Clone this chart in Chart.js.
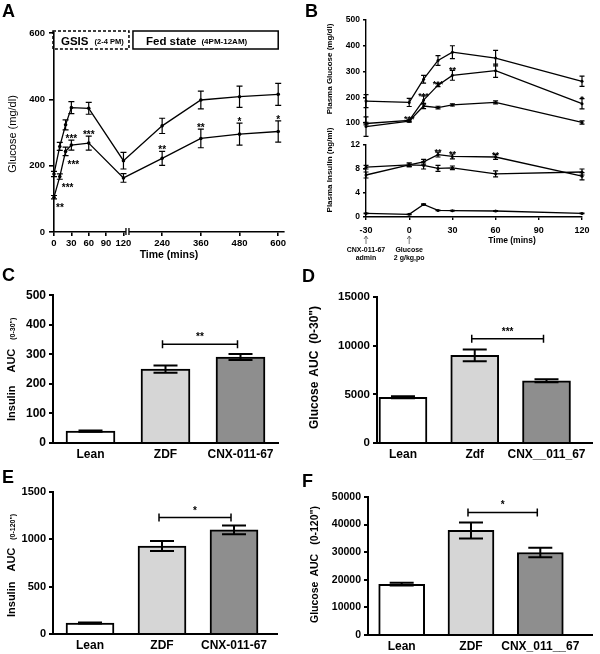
<!DOCTYPE html>
<html>
<head>
<meta charset="utf-8">
<title>CNX-011-67 glucose and insulin</title>
<script src="https://cdn.jsdelivr.net/npm/chart.js@4.4.1/dist/chart.umd.min.js"></script>
<style>
  html, body { margin: 0; padding: 0; background: #fff; }
  #fig { position: relative; width: 600px; height: 654px; overflow: hidden; }
  #fig canvas { position: absolute; }
  .tag { position: absolute; font: bold 18px "Liberation Sans", Arial, sans-serif; line-height: 18px; }
</style>
</head>
<body>
<div id="fig">
  <canvas id="panelA"></canvas>
  <canvas id="panelBglu"></canvas>
  <canvas id="panelBins"></canvas>
  <canvas id="panelC"></canvas>
  <canvas id="panelD"></canvas>
  <canvas id="panelE"></canvas>
  <canvas id="panelF"></canvas>
  <div class="tag" style="left:2px;top:2px">A</div>
  <div class="tag" style="left:305px;top:2px">B</div>
  <div class="tag" style="left:2px;top:266px">C</div>
  <div class="tag" style="left:302px;top:267px">D</div>
  <div class="tag" style="left:2px;top:468px">E</div>
  <div class="tag" style="left:302px;top:472px">F</div>
</div>
<script>
// ---- values ----
// A: glucose over the day (GSIS then fed state), ZDF vs CNX-011-67
const timesA = [0, 10, 20, 30, 60, 120, 240, 360, 480, 600];
const glucoseZdfA = [175, 258, 323, 375, 373, 215, 320, 398, 408, 415];
const glucoseZdfErrA = [8, 12, 15, 18, 18, 25, 23, 27, 32, 33];
const glucoseCnxA = [105, 167, 243, 262, 268, 163, 222, 282, 295, 303];
const glucoseCnxErrA = [5, 8, 13, 15, 21, 13, 21, 28, 33, 32];
const starsA = ['**', '***', '***', '***', '***', '', '**', '**', '*', '*'];
const timeTicksA = [0, 30, 60, 90, 120, 240, 360, 480, 600];
const glucoseTicksA = [0, 200, 400, 600];

// B: OGTT, plasma glucose and insulin
const timesB = [-30, 0, 10, 20, 30, 60, 120];
const gluZdfB = [185, 180, 270, 343, 375, 352, 262];
const gluZdfErrB = [25, 16, 15, 19, 25, 30, 20];
const gluCnxB = [98, 110, 189, 247, 285, 303, 175];
const gluCnxErrB = [5, 5, 16, 6, 19, 26, 20];
const gluLeanB = [86, 107, 166, 160, 170, 180, 102];
const gluLeanErrB = [38, 4, 10, 5, 4, 6, 6];
const gluStarsB = ['', '***', '***', '***', '**', '', '*'];
const insZdfB = [8.3, 8.7, 8.6, 8.1, 8.2, 7.2, 7.5];
const insZdfErrB = [0.3, 0.3, 0.6, 0.5, 0.3, 0.5, 0.5];
const insCnxB = [7.0, 8.7, 9.2, 10.4, 10.1, 10.0, 6.8];
const insCnxErrB = [0.5, 0.3, 0.4, 0.4, 0.4, 0.4, 0.6];
const insLeanB = [0.6, 0.45, 2.1, 1.1, 1.05, 1.0, 0.6];
const insLeanErrB = [0.05, 0.05, 0.1, 0.05, 0.05, 0.05, 0.05];
const insStarsB = ['', '', '', '**', '**', '**', ''];
const timeTicksB = [-30, 0, 30, 60, 90, 120];
const gluTicksB = [100, 200, 300, 400, 500];
const insTicksB = [0, 2, 4, 6, 8, 10, 12];

// C-F: AUC bars
const groupsCE = ['Lean', 'ZDF', 'CNX-011-67'];
const groupsD = ['Lean', 'Zdf', 'CNX__011_67'];
const groupsF = ['Lean', 'ZDF', 'CNX_011__67'];
const insAuc30 = [40, 250, 291];
const insAuc30Err = [2, 12, 10];
const gluAuc30 = [4700, 9000, 6400];
const gluAuc30Err = [100, 600, 150];
const insAuc120 = [116, 930, 1100];
const insAuc120Err = [5, 52, 45];
const gluAuc120 = [18400, 37900, 29900];
const gluAuc120Err = [500, 2900, 1700];
// ZDF vs CNX bracket: [stars, height in axis units]
const sigC = ['**', 334];
const sigD = ['***', 10700];
const sigE = ['*', 1230];
const sigF = ['*', 44400];
const ticksC = [0, 100, 200, 300, 400, 500];
const ticksD = [0, 5000, 10000, 15000];
const ticksE = [0, 500, 1000, 1500];
const ticksF = [0, 10000, 20000, 30000, 40000, 50000];
const barFills = ['#ffffff', '#d6d6d6', '#8e8e8e'];

// ---- setup ----
const FAMILY = '"Liberation Sans", Arial, Helvetica, sans-serif';
Chart.defaults.font.family = FAMILY;
Chart.defaults.color = '#000';
Chart.defaults.animation = false;
Chart.defaults.responsive = false;
Chart.defaults.plugins.legend.display = false;
Chart.defaults.plugins.tooltip.enabled = false;

const fnt = (size, weight = 'bold') => `${weight} ${size}px ${FAMILY}`;

function canvasAt(id, box) {
  const c = document.getElementById(id);
  c.width = box.w; c.height = box.h;
  c.style.left = box.x + 'px'; c.style.top = box.y + 'px';
  return c;
}

// plot area given in page pixels -> padding + fixed axis sizes
function frame(box, area) {
  return {
    padding: { left: 0, top: area.top - box.y, right: box.x + box.w - area.right, bottom: 0 },
    yWidth: area.left - box.x,
    xHeight: box.y + box.h - area.bottom,
  };
}

function valueAxis(ticks, size, width, lw = 1.6, tick = 4, pad = 3) {
  return {
    min: ticks[0], max: ticks[ticks.length - 1],
    afterBuildTicks: s => { s.ticks = ticks.map(v => ({ value: v })); },
    afterFit: s => { s.width = width; },
    border: { color: '#000', width: lw },
    grid: { drawOnChartArea: false, color: '#000', lineWidth: lw, tickLength: tick },
    ticks: { font: { size, weight: 'bold' }, padding: pad, callback: v => String(v) },
  };
}

// vertical error bars from dataset.errors
const errorBars = {
  id: 'errorBars',
  afterDatasetsDraw(chart) {
    const ctx = chart.ctx;
    chart.data.datasets.forEach((ds, i) => {
      if (!ds.errors) return;
      const meta = chart.getDatasetMeta(i);
      const ys = chart.scales[meta.yAxisID];
      const cap = ds.capWidth || 3;
      ctx.save();
      ctx.strokeStyle = '#000';
      ctx.lineWidth = ds.errorWidth || 1.2;
      meta.data.forEach((el, j) => {
        const v = ds.data[j].y;
        const top = ys.getPixelForValue(v + ds.errors[j]);
        const bot = ys.getPixelForValue(v - ds.errors[j]);
        ctx.beginPath();
        ctx.moveTo(el.x, top); ctx.lineTo(el.x, bot);
        ctx.moveTo(el.x - cap, top); ctx.lineTo(el.x + cap, top);
        ctx.moveTo(el.x - cap, bot); ctx.lineTo(el.x + cap, bot);
        ctx.stroke();
      });
      ctx.restore();
    });
  },
};

// text rotated to read bottom-to-top, starting at page point (x, y)
function upText(ctx, box, x, y, parts) {
  ctx.save();
  ctx.translate(x - box.x, y - box.y);
  ctx.rotate(-Math.PI / 2);
  ctx.fillStyle = '#000';
  ctx.textBaseline = 'alphabetic';
  let pos = 0;
  parts.forEach(([text, size, weight, gap]) => {
    ctx.font = fnt(size, weight);
    ctx.fillText(text, pos, 0);
    pos += ctx.measureText(text).width + (gap || 0);
  });
  ctx.restore();
}

function upTextCentered(ctx, box, x, y, text, size, weight) {
  ctx.save();
  ctx.font = fnt(size, weight);
  const w = ctx.measureText(text).width;
  ctx.restore();
  upText(ctx, box, x, y + w / 2, [[text, size, weight, 0]]);
}

function pageText(ctx, box, text, x, y, size, weight, align = 'center') {
  ctx.save();
  ctx.font = fnt(size, weight);
  ctx.fillStyle = '#000';
  ctx.textAlign = align;
  ctx.textBaseline = 'alphabetic';
  ctx.fillText(text, x - box.x, y - box.y);
  ctx.restore();
}

// stars just above each error bar
function starsOver(chart, dsIndex, labels, size, lift, skip = 0) {
  const ctx = chart.ctx;
  const ds = chart.data.datasets[dsIndex];
  const meta = chart.getDatasetMeta(dsIndex);
  const ys = chart.scales[meta.yAxisID];
  ctx.save();
  ctx.font = fnt(size);
  ctx.fillStyle = '#000';
  ctx.textAlign = 'center';
  labels.forEach((s, j) => {
    if (!s || j < skip) return;
    const top = ys.getPixelForValue(ds.data[j].y + ds.errors[j]);
    ctx.fillText(s, meta.data[j].x, top + lift);
  });
  ctx.restore();
}

const lineStyle = {
  borderColor: '#000', borderWidth: 1.3, pointRadius: 1.8, pointBackgroundColor: '#000',
  pointBorderColor: '#000', pointBorderWidth: 0, tension: 0, fill: false, clip: false,
};

// ---- A ----
const boxA = { x: 0, y: 0, w: 300, h: 268 };
const frA = frame(boxA, { left: 54, top: 33, right: 284, bottom: 232 });
const posA = t => (t <= 120 ? t : 120 + (t - 120) * 0.557); // axis is compressed after the break at 120
new Chart(canvasAt('panelA', boxA), {
  type: 'line',
  data: {
    datasets: [
      { ...lineStyle, label: 'ZDF', data: timesA.map((t, i) => ({ x: posA(t), y: glucoseZdfA[i] })), errors: glucoseZdfErrA },
      { ...lineStyle, label: 'CNX-011-67', data: timesA.map((t, i) => ({ x: posA(t), y: glucoseCnxA[i] })), errors: glucoseCnxErrA },
    ],
  },
  options: {
    layout: { padding: frA.padding },
    scales: {
      x: {
        type: 'linear', min: 0, max: posA(600) + 10,
        afterBuildTicks: s => { s.ticks = timeTicksA.map(t => ({ value: posA(t) })); },
        afterFit: s => { s.height = frA.xHeight; },
        border: { color: '#000', width: 1.6 },
        grid: { drawOnChartArea: false, color: '#000', lineWidth: 1.6, tickLength: 4 },
        ticks: { autoSkip: false, maxRotation: 0, font: { size: 9.5, weight: 'bold' }, padding: 2, callback: (v, i) => String(timeTicksA[i]) },
      },
      y: valueAxis(glucoseTicksA, 9.5, frA.yWidth, 1.6, 5, 4),
    },
  },
  plugins: [errorBars, {
    id: 'decorA',
    afterDraw(chart) {
      const { ctx, scales: { x, y } } = chart;
      // axis break after 120
      const bx = x.getPixelForValue(posA(120)) + 2.5;
      const by = y.getPixelForValue(0);
      ctx.save();
      ctx.fillStyle = '#fff';
      ctx.fillRect(bx, by - 2, 3, 4);
      ctx.strokeStyle = '#000';
      ctx.lineWidth = 1.3;
      ctx.beginPath();
      ctx.moveTo(bx, by - 4); ctx.lineTo(bx, by + 3);
      ctx.moveTo(bx + 3, by - 4); ctx.lineTo(bx + 3, by + 3);
      ctx.stroke();
      // phase boxes
      const top = y.getPixelForValue(600) - 2;
      const gL = x.getPixelForValue(0) - 1, gR = x.getPixelForValue(posA(120)) + 5.5;
      const fL = gR + 4, fR = x.getPixelForValue(posA(600));
      ctx.lineWidth = 1.5;
      ctx.setLineDash([3, 2]);
      ctx.strokeRect(gL, top, gR - gL, 18);
      ctx.setLineDash([]);
      ctx.strokeRect(fL, top, fR - fL, 18);
      ctx.fillStyle = '#000';
      ctx.textBaseline = 'alphabetic';
      ctx.font = fnt(11.5);
      ctx.fillText('GSIS', gL + 8, top + 14);
      let w = ctx.measureText('GSIS').width;
      ctx.font = fnt(7.5);
      ctx.fillText('(2-4 PM)', gL + 8 + w + 6, top + 13);
      ctx.font = fnt(11.5);
      ctx.fillText('Fed state', fL + 13, top + 14);
      w = ctx.measureText('Fed state').width;
      ctx.font = fnt(8);
      ctx.fillText('(4PM-12AM)', fL + 13 + w + 5, top + 13);
      // early stars sit below-right of the points
      const ds = chart.data.datasets[1];
      const meta = chart.getDatasetMeta(1);
      ctx.font = fnt(10);
      ctx.textAlign = 'left';
      for (let j = 0; j < 3; j++) {
        const bot = y.getPixelForValue(ds.data[j].y - ds.errors[j]);
        ctx.fillText(starsA[j], meta.data[j].x + 2, bot + 12);
      }
      ctx.restore();
      starsOver(chart, 1, starsA, 10, 2, 3);
      upTextCentered(ctx, boxA, 16, 134, 'Glucose (mg/dl)', 11, 'normal');
      pageText(ctx, boxA, 'Time (mins)', 169, 258, 10.5, 'bold');
    },
  }],
});

// ---- B, glucose part ----
const boxBg = { x: 300, y: 0, w: 300, h: 140 };
new Chart(canvasAt('panelBglu', boxBg), {
  type: 'line',
  data: {
    datasets: [
      { ...lineStyle, pointRadius: 1.5, label: 'ZDF', data: timesB.map((t, i) => ({ x: t, y: gluZdfB[i] })), errors: gluZdfErrB, capWidth: 2.5 },
      { ...lineStyle, pointRadius: 1.5, label: 'CNX-011-67', data: timesB.map((t, i) => ({ x: t, y: gluCnxB[i] })), errors: gluCnxErrB, capWidth: 2.5 },
      { ...lineStyle, pointRadius: 1.5, label: 'Lean', data: timesB.map((t, i) => ({ x: t, y: gluLeanB[i] })), errors: gluLeanErrB, capWidth: 2.5 },
    ],
  },
  options: {
    layout: { padding: { left: 0, top: 20, right: 18, bottom: 17 } },
    scales: {
      x: { type: 'linear', min: timeTicksB[0], max: timeTicksB[timeTicksB.length - 1], display: false },
      y: valueAxis(gluTicksB, 8.5, 66, 1.4, 3, 3),
    },
  },
  plugins: [errorBars, {
    id: 'decorBglu',
    afterDraw(chart) {
      starsOver(chart, 1, gluStarsB, 9, 3);
      upTextCentered(chart.ctx, boxBg, 332, 69, 'Plasma Glucose (mg/dl)', 8, 'bold');
    },
  }],
});

// ---- B, insulin part ----
const boxBi = { x: 300, y: 120, w: 300, h: 150 };
const frBi = frame(boxBi, { left: 366, top: 145, right: 582, bottom: 217 });
new Chart(canvasAt('panelBins', boxBi), {
  type: 'line',
  data: {
    datasets: [
      { ...lineStyle, pointRadius: 1.5, label: 'ZDF', data: timesB.map((t, i) => ({ x: t, y: insZdfB[i] })), errors: insZdfErrB, capWidth: 2.5 },
      { ...lineStyle, pointRadius: 1.5, label: 'CNX-011-67', data: timesB.map((t, i) => ({ x: t, y: insCnxB[i] })), errors: insCnxErrB, capWidth: 2.5 },
      { ...lineStyle, pointRadius: 1.5, label: 'Lean', data: timesB.map((t, i) => ({ x: t, y: insLeanB[i] })), errors: insLeanErrB, capWidth: 2.5 },
    ],
  },
  options: {
    layout: { padding: frBi.padding },
    scales: {
      x: {
        type: 'linear', min: timeTicksB[0], max: timeTicksB[timeTicksB.length - 1],
        afterBuildTicks: s => { s.ticks = timeTicksB.map(v => ({ value: v })); },
        afterFit: s => { s.height = frBi.xHeight; },
        border: { color: '#000', width: 1.4 },
        grid: { drawOnChartArea: false, color: '#000', lineWidth: 1.4, tickLength: 3 },
        ticks: { autoSkip: false, maxRotation: 0, font: { size: 9, weight: 'bold' }, padding: 5, callback: v => String(v) },
      },
      y: valueAxis(insTicksB, 8.5, frBi.yWidth, 1.4, 3, 3),
    },
  },
  plugins: [errorBars, {
    id: 'decorBins',
    afterDraw(chart) {
      const { ctx, scales: { x } } = chart;
      starsOver(chart, 1, insStarsB, 9, 3);
      upTextCentered(ctx, boxBi, 332, 170, 'Plasma Insulin (ng/ml)', 8, 'bold');
      pageText(ctx, boxBi, 'Time (mins)', 512, 243, 8.5, 'bold');
      // dosing arrows under the time axis
      ctx.save();
      ctx.strokeStyle = '#555';
      ctx.lineWidth = 0.8;
      [-30, 0].forEach(t => {
        const ax = x.getPixelForValue(t);
        const ay = 236 - boxBi.y;
        ctx.beginPath();
        ctx.moveTo(ax, ay + 8); ctx.lineTo(ax, ay);
        ctx.moveTo(ax - 2, ay + 3); ctx.lineTo(ax, ay); ctx.lineTo(ax + 2, ay + 3);
        ctx.stroke();
      });
      ctx.restore();
      const a = x.getPixelForValue(-30) + boxBi.x, g = x.getPixelForValue(0) + boxBi.x;
      pageText(ctx, boxBi, 'CNX-011-67', a, 251.5, 7, 'bold');
      pageText(ctx, boxBi, 'admin', a, 259.5, 7, 'bold');
      pageText(ctx, boxBi, 'Glucose', g, 251.5, 7, 'bold');
      pageText(ctx, boxBi, '2 g/kg,po', g, 259.5, 7, 'bold');
    },
  }],
});

// ---- C-F bar panels ----
function barPanel(id, box, area, groups, values, errs, ticks, range, barWidth, sig, tickSize, title) {
  const fr = frame(box, area);
  return new Chart(canvasAt(id, box), {
    type: 'bar',
    data: {
      datasets: [{
        data: groups.map((g, i) => ({ x: i, y: values[i] })),
        backgroundColor: barFills, borderColor: '#000', borderWidth: 2,
        barThickness: barWidth, errors: errs, capWidth: 12, errorWidth: 2,
      }],
    },
    options: {
      layout: { padding: fr.padding },
      scales: {
        x: {
          type: 'linear', min: range[0], max: range[1], offset: false, z: 1,
          afterBuildTicks: s => { s.ticks = groups.map((g, i) => ({ value: i })); },
          afterFit: s => { s.height = fr.xHeight; },
          border: { color: '#000', width: 2 },
          grid: { display: false, drawTicks: false, offset: false },
          ticks: { autoSkip: false, maxRotation: 0, font: { size: 12, weight: 'bold' }, padding: 4, callback: (v, i) => groups[i] },
        },
        y: Object.assign(valueAxis(ticks, tickSize, fr.yWidth, 2, 4, 3), { z: 1 }),
      },
    },
    plugins: [errorBars, {
      id: 'decor' + id,
      afterDraw(chart) {
        const { ctx, scales: { x, y } } = chart;
        const x1 = x.getPixelForValue(1) - 3, x2 = x.getPixelForValue(2) - 3, by = y.getPixelForValue(sig[1]);
        ctx.save();
        ctx.strokeStyle = '#000';
        ctx.lineWidth = 1.5;
        ctx.beginPath();
        ctx.moveTo(x1, by); ctx.lineTo(x2, by);
        ctx.moveTo(x1, by - 4); ctx.lineTo(x1, by + 4);
        ctx.moveTo(x2, by - 4); ctx.lineTo(x2, by + 4);
        ctx.stroke();
        ctx.font = fnt(10);
        ctx.fillStyle = '#000';
        ctx.textAlign = 'center';
        ctx.fillText(sig[0], (x1 + x2) / 2, by - 4);
        ctx.restore();
        upText(ctx, box, title.x, title.y, title.parts);
      },
    }],
  });
}

barPanel('panelC', { x: 0, y: 285, w: 300, h: 175 }, { left: 53, top: 295, right: 278, bottom: 443 },
  groupsCE, insAuc30, insAuc30Err, ticksC, [-0.5, 2.5], 49, sigC, 12,
  { x: 15, y: 421, parts: [['Insulin', 11, 'bold', 13], ['AUC', 11, 'bold', 9], ['(0-30")', 7, 'bold', 0]] });

barPanel('panelD', { x: 300, y: 285, w: 300, h: 175 }, { left: 377, top: 297, right: 592, bottom: 443 },
  groupsD, gluAuc30, gluAuc30Err, ticksD, [-0.362, 2.634], 48, sigD, 11.5,
  { x: 318, y: 429, parts: [['Glucose', 12, 'bold', 5], ['AUC', 12, 'bold', 7], ['(0-30")', 12, 'bold', 0]] });

barPanel('panelE', { x: 0, y: 460, w: 300, h: 194 }, { left: 53, top: 492, right: 277, bottom: 634 },
  groupsCE, insAuc120, insAuc120Err, ticksE, [-0.514, 2.597], 48, sigE, 11,
  { x: 15, y: 617, parts: [['Insulin', 11, 'bold', 10], ['AUC', 11, 'bold', 8], ['(0-120")', 7, 'bold', 0]] });

barPanel('panelF', { x: 300, y: 460, w: 300, h: 194 }, { left: 368, top: 497, right: 592, bottom: 635 },
  groupsF, gluAuc120, gluAuc120Err, ticksF, [-0.486, 2.746], 46, sigF, 10.5,
  { x: 318, y: 623, parts: [['Glucose', 10.5, 'bold', 5], ['AUC', 10.5, 'bold', 9], ['(0-120")', 10.5, 'bold', 0]] });
</script>
</body>
</html>
